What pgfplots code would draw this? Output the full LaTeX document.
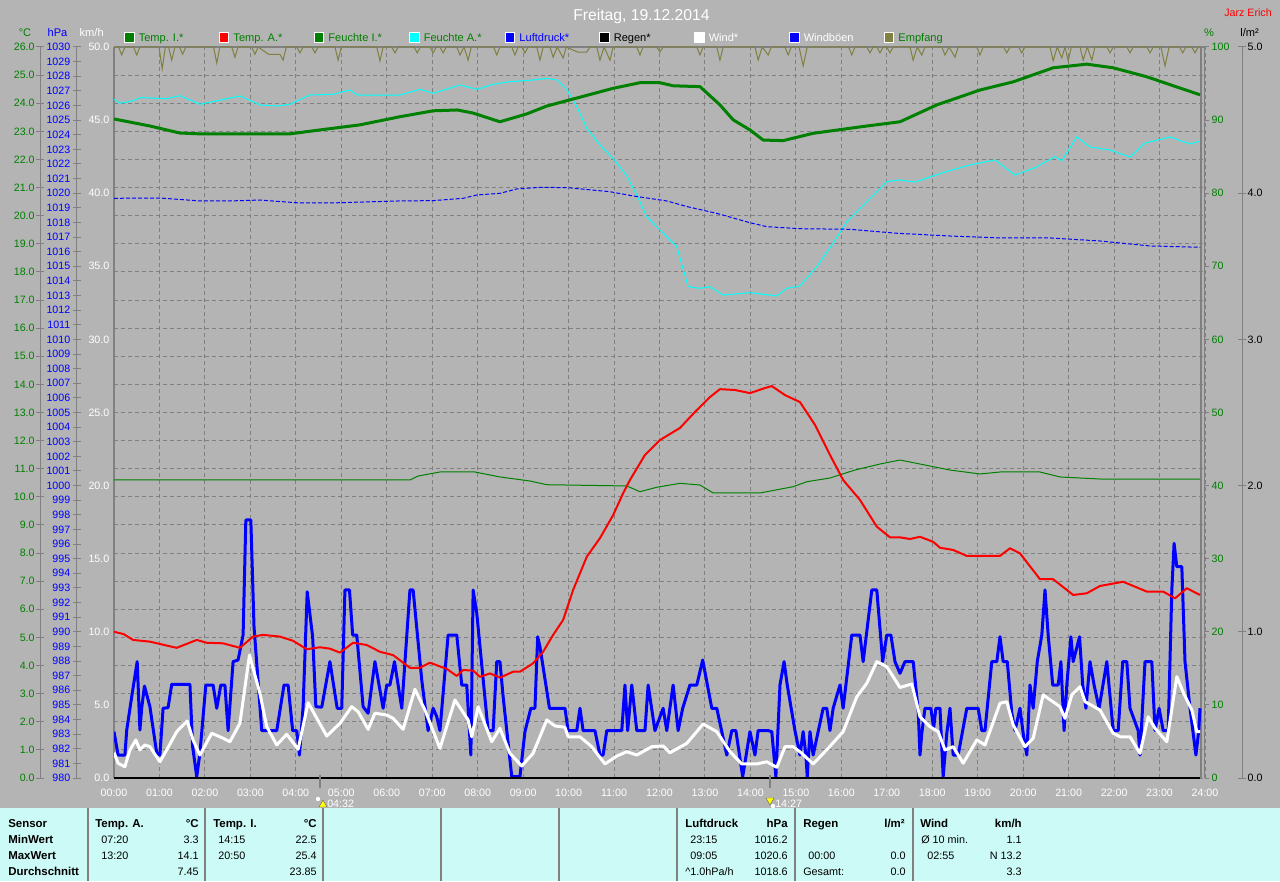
\documentclass[border=0pt]{standalone}
\usepackage{pgfplots}
\pgfplotsset{compat=1.18}
\usepackage{fontspec}
\setmainfont{Liberation Sans}

\definecolor{bggray}{RGB}{180,180,180}
\definecolor{tablecyan}{RGB}{204,250,246}
\definecolor{axgray}{RGB}{128,128,128}
\definecolor{dgreen}{RGB}{0,128,0}
\definecolor{olivec}{RGB}{128,128,64}
\definecolor{aqua}{RGB}{0,255,255}
\definecolor{pred}{RGB}{255,0,0}
\definecolor{pblue}{RGB}{0,0,255}
\definecolor{pyellow}{RGB}{255,255,0}

\newcommand\ticfont{\fontsize{8}{9}\selectfont}
\newcommand\legfont{\fontsize{8.3}{10}\selectfont}
\newcommand\tabfont{\fontsize{8.1}{10}\selectfont}
\newcommand\tabbold{\fontsize{8.6}{10}\selectfont\bfseries}
\newcommand\tl[3]{\node[anchor=base west,inner sep=0pt,font=\tabfont] at (#1,#2) {#3};}
\newcommand\tr[3]{\node[anchor=base east,inner sep=0pt,font=\tabfont] at (#1,#2) {#3};}
\newcommand\bl[3]{\node[anchor=base west,inner sep=0pt,font=\tabbold] at (#1,#2) {#3};}
\newcommand\br[3]{\node[anchor=base east,inner sep=0pt,font=\tabbold] at (#1,#2) {#3};}
\newcommand\legitem[4]{%
  \filldraw[fill=#4,draw=white,line width=0.75pt] (#1,838.5) rectangle ++(9.5,9.5);
  \node[anchor=base west,inner sep=0pt,font=\legfont,text=#3] at (#1+14,839.7) {#2};}

\pgfplotsset{
  /pgf/number format/assume math mode=true,
  /pgf/number format/1000 sep={},
  chartbase/.style={
    scale only axis, width=818.25pt, height=548.25pt,
    at={(85.5pt,77.25pt)}, anchor=south west,
    xmin=0, xmax=24,
  },
  hidden/.style={chartbase, hide axis},
  scalebar/.style={
    scale only axis, width=1pt, height=548.25pt, anchor=south west,
    xmin=0, xmax=1, hide x axis,
    y axis line style={axgray, line width=0.75pt, -},
    tick align=center, major tick length=6pt,
    major tick style={axgray, line width=0.75pt},
    tick label style={font=\ticfont},
  },
  onedec/.style={/pgf/number format/fixed, /pgf/number format/fixed zerofill, /pgf/number format/precision=1},
}

\begin{document}
\begin{tikzpicture}
\begin{scope}[x=0.75pt,y=0.75pt]
\fill[bggray] (0,0) rectangle (1280,881);
\fill[tablecyan] (0,0) rectangle (1280,73);
\foreach \xx in {88,205,323,441,559,677,795,913}
  \draw[axgray, line width=1.1pt] (\xx,0) -- (\xx,73);
\draw[axgray, line width=1.5pt] (114,103) -- (114,834);
\draw[axgray, line width=1.5pt] (114,834) -- (1205,834);
\draw[axgray, line width=1.1pt] (1201,103) -- (1201,834);
\draw[axgray, line width=1.1pt] (1204.5,103) -- (1204.5,834);
\end{scope}

% grid + time labels
\begin{axis}[chartbase, ymin=0, ymax=26,
  xtick={0,...,24}, ytick={0,...,26},
  xticklabels={00:00,01:00,02:00,03:00,04:00,05:00,06:00,07:00,08:00,09:00,10:00,11:00,12:00,13:00,14:00,15:00,16:00,17:00,18:00,19:00,20:00,21:00,22:00,23:00,24:00},
  yticklabels={},
  axis line style={draw=none}, major tick length=0pt,
  xmajorgrids, ymajorgrids,
  major grid style={axgray, line width=0.75pt, dash pattern=on 3pt off 2.25pt},
  xticklabel style={text=white, font=\ticfont, anchor=north, yshift=-5pt},
]
\end{axis}

% km/h: Windboeen, Wind
\begin{axis}[chartbase, ymin=0, ymax=50,
  xtick=\empty, axis line style={draw=none}, major tick length=0pt,
  ytick={0,5,...,50},
  yticklabel style={text=white, font=\ticfont, onedec},
]
% Windboeen
\addplot[pblue, line width=2.25pt, line join=round] coordinates {
(0.00,3.17)(0.09,1.57)(0.24,1.57)(0.28,3.28)(0.39,5.56)(0.51,7.96)(0.57,3.28)(0.61,4.79)
(0.67,6.29)(0.79,4.88)(0.94,1.69)(1.01,1.57)(1.08,4.77)(1.19,4.81)(1.27,6.41)(1.67,6.41)
(1.73,2.14)(1.82,0.09)(1.89,1.69)(2.02,6.36)(2.18,6.36)(2.26,4.77)(2.35,6.36)(2.44,6.36)
(2.51,3.24)(2.62,7.96)(2.73,8.07)(2.84,9.78)(2.90,17.65)(3.01,17.65)(3.08,10.35)(3.25,3.24)
(3.58,3.24)(3.74,6.36)(3.83,6.36)(3.93,3.24)(4.02,3.24)(4.08,1.57)(4.16,4.88)(4.25,12.74)
(4.37,9.66)(4.44,4.88)(4.57,4.84)(4.75,7.96)(4.91,4.77)(5.01,4.77)(5.08,12.86)(5.18,12.86)
(5.25,9.78)(5.34,9.78)(5.48,4.88)(5.59,4.43)(5.74,7.96)(5.92,4.77)(6.00,6.36)(6.07,6.36)
(6.17,7.96)(6.33,4.77)(6.51,12.86)(6.58,12.86)(6.77,6.70)(6.91,3.24)(7.02,4.77)(7.10,4.19)
(7.17,3.24)(7.35,9.78)(7.54,9.78)(7.65,6.36)(7.76,6.36)(7.85,1.57)(7.90,12.86)(7.98,11.27)
(8.23,3.24)(8.34,3.24)(8.42,7.96)(8.49,7.96)(8.56,5.56)(8.75,0.09)(8.93,0.09)(9.04,3.17)
(9.17,4.77)(9.26,4.77)(9.32,9.66)(9.37,8.98)(9.58,4.77)(9.92,4.77)(9.99,3.24)(10.18,3.24)
(10.25,4.77)(10.32,3.24)(10.58,3.24)(10.69,1.57)(10.76,1.57)(10.84,3.24)(11.17,3.24)(11.24,6.36)
(11.30,3.24)(11.39,6.36)(11.50,3.24)(11.68,3.24)(11.75,6.36)(11.90,3.24)(12.08,4.77)(12.16,3.24)
(12.30,6.36)(12.41,3.24)(12.51,4.77)(12.67,6.36)(12.82,6.36)(12.95,8.07)(13.15,4.77)(13.26,4.77)
(13.48,1.57)(13.59,3.24)(13.68,3.24)(13.83,0.09)(13.99,3.17)(14.10,1.57)(14.17,3.24)(14.39,3.24)
(14.47,3.17)(14.56,0.09)(14.65,6.36)(14.74,7.96)(14.81,6.36)(14.98,3.24)(15.09,1.57)(15.16,3.17)
(15.22,1.57)(15.25,0.09)(15.31,3.17)(15.38,1.57)(15.60,4.77)(15.68,4.77)(15.75,3.24)(15.82,4.77)
(15.97,6.36)(16.04,4.77)(16.23,9.78)(16.41,9.78)(16.48,7.96)(16.67,12.86)(16.78,12.86)(16.91,7.96)
(17.00,9.78)(17.09,9.78)(17.18,7.96)(17.29,7.16)(17.40,7.96)(17.58,7.96)(17.69,4.65)(17.73,1.57)
(17.77,3.06)(17.84,4.77)(17.97,4.77)(18.03,3.40)(18.08,4.77)(18.17,4.77)(18.24,0.09)(18.32,3.06)
(18.39,4.77)(18.46,1.57)(18.57,1.57)(18.76,4.77)(19.01,4.77)(19.09,3.24)(19.16,3.24)(19.31,7.96)
(19.42,7.96)(19.49,9.66)(19.56,7.96)(19.65,7.96)(19.75,4.43)(19.82,3.24)(19.93,4.77)(20.00,3.06)
(20.08,1.57)(20.15,6.36)(20.22,4.77)(20.31,7.96)(20.41,9.78)(20.48,12.86)(20.55,9.78)(20.65,6.36)
(20.77,6.36)(20.83,7.96)(20.90,3.24)(20.96,6.36)(21.05,9.66)(21.10,7.96)(21.24,9.66)(21.31,6.36)
(21.38,4.77)(21.47,7.96)(21.56,6.36)(21.67,4.77)(21.84,7.96)(21.98,3.24)(22.09,3.24)(22.19,7.96)
(22.28,7.96)(22.35,4.77)(22.53,3.24)(22.57,1.57)(22.68,7.96)(22.83,7.96)(22.90,3.24)(22.99,4.77)
(23.08,3.24)(23.19,3.24)(23.27,12.86)(23.32,16.05)(23.38,14.45)(23.49,14.45)(23.56,7.96)(23.67,4.77)
(23.80,1.57)(23.86,3.17)(23.89,4.77)
};
% Wind
\addplot[white, line width=2.25pt, line join=round] coordinates {
(0.00,1.73)(0.09,1.01)(0.24,0.77)(0.35,1.92)(0.48,2.60)(0.57,1.92)(0.68,2.26)(0.79,2.14)
(1.01,1.11)(1.16,1.92)(1.38,3.17)(1.61,3.90)(1.74,2.60)(1.89,1.57)(2.15,3.06)(2.40,2.72)
(2.55,2.48)(2.77,3.74)(2.98,8.41)(3.21,5.79)(3.36,3.51)(3.58,2.26)(3.80,2.99)(4.05,1.96)
(4.27,5.15)(4.68,2.87)(4.97,3.74)(5.23,4.88)(5.37,4.53)(5.59,3.33)(5.74,4.43)(6.00,4.31)
(6.14,4.08)(6.36,3.33)(6.62,6.07)(6.84,4.65)(7.17,2.03)(7.50,5.34)(7.79,3.97)(7.87,2.82)
(8.01,4.88)(8.31,2.48)(8.49,3.40)(8.71,1.69)(8.97,0.82)(9.22,1.69)(9.52,3.97)(9.70,3.56)
(9.92,3.47)(9.99,2.82)(10.25,2.82)(10.51,2.14)(10.80,0.96)(11.06,1.50)(11.28,1.80)(11.50,1.57)
(11.83,2.14)(12.08,2.19)(12.23,1.73)(12.60,2.37)(12.96,3.69)(13.26,3.17)(13.55,1.80)(13.81,0.96)
(14.14,0.96)(14.36,1.11)(14.58,0.73)(14.76,2.14)(14.94,2.14)(15.13,1.69)(15.38,0.96)(15.71,2.03)
(16.04,3.17)(16.34,5.56)(16.56,6.48)(16.78,7.96)(17.00,7.61)(17.14,6.93)(17.29,6.19)(17.55,6.43)
(17.73,4.19)(17.95,3.51)(18.13,3.17)(18.28,1.92)(18.46,2.14)(18.68,1.01)(18.98,2.60)(19.16,2.26)
(19.49,5.11)(19.64,5.22)(19.78,3.63)(20.04,2.14)(20.22,2.72)(20.44,5.68)(20.81,4.88)(20.92,4.08)
(21.07,5.68)(21.25,6.25)(21.36,5.22)(21.69,4.65)(21.98,3.06)(22.13,2.82)(22.35,2.82)(22.57,1.69)
(22.75,4.19)(22.90,3.40)(23.16,2.48)(23.38,6.93)(23.53,5.79)(23.71,4.65)(23.82,3.17)(23.89,3.17)
};
\end{axis}

% %: Feuchte I, Feuchte A, Empfang
\begin{axis}[chartbase, ymin=0, ymax=100,
  hide x axis, axis y line*=right, y axis line style={draw=none},
  ytick={0,10,...,100}, tick align=outside, major tick length=3pt,
  major tick style={axgray, line width=0.75pt},
  yticklabel style={text=dgreen, font=\ticfont, xshift=-1.5pt},
]
% Feuchte I
\addplot[dgreen, line width=0.75pt] coordinates {
(0,40.77)(6.51,40.77)(6.69,41.31)(7.17,41.86)(7.94,41.86)(8.49,41.18)(9.15,40.63)(9.52,40.12)
(11.28,39.95)(11.57,39.17)(11.94,39.77)(12.45,40.31)(12.89,40.08)(13.18,38.99)(14.21,38.99)
(14.94,39.85)(15.24,40.53)(15.75,41.04)(16.30,42.13)(16.85,42.95)(17.29,43.50)(17.73,42.95)
(18.39,42.13)(19.05,41.59)(19.49,41.86)(20.37,41.86)(20.81,41.18)(21.69,40.90)(23.89,40.90)
};
% Feuchte A
\addplot[aqua, line width=0.75pt] coordinates {
(0.00,92.85)(0.13,92.30)(0.42,92.65)(0.57,93.07)(1.17,92.93)(1.45,93.34)(1.89,92.16)(2.27,92.65)
(2.77,93.30)(3.21,92.07)(3.59,91.93)(3.87,92.16)(4.31,93.43)(4.82,93.53)(5.19,94.12)(5.35,93.43)
(5.92,93.43)(6.29,93.43)(6.73,94.21)(7.02,93.67)(7.61,94.80)(7.99,94.21)(8.34,94.90)(8.71,95.25)
(9.22,95.49)(9.52,95.72)(9.75,95.49)(9.97,94.12)(10.18,91.83)(10.40,88.88)(10.69,86.59)(10.98,84.77)
(11.28,82.38)(11.50,79.75)(11.72,76.79)(12.01,74.97)(12.16,74.05)(12.38,72.68)(12.63,67.21)(12.89,66.99)
(13.11,67.21)(13.40,66.07)(13.99,66.39)(14.58,65.94)(14.80,66.99)(15.09,67.31)(15.46,69.95)(15.82,73.15)
(16.12,76.10)(16.56,78.84)(17.00,81.57)(17.29,81.81)(17.62,81.53)(18.28,82.90)(18.83,83.86)(19.38,84.54)
(19.82,82.49)(20.26,83.49)(20.70,85.00)(20.85,84.45)(21.18,87.69)(21.47,86.32)(21.91,85.91)(22.35,84.95)
(22.68,86.86)(23.23,87.69)(23.67,86.73)(23.89,87.14)
};
% Empfang
\addplot[olivec, line width=0.75pt] coordinates {
(0,100)(0.10,100)(0.17,98.9)(0.24,100)(0.43,100)(0.50,98.9)(0.57,100)(0.99,100)(1.06,97.0)(1.13,100)
(1.20,100)(1.27,98.2)(1.34,100)(1.44,100)(1.51,99.0)(1.58,100)(2.19,100)(2.26,97.8)(2.33,100)
(2.59,100)(2.66,98.6)(2.73,100)(3.03,100)(3.10,99.0)(3.17,100)(3.40,99.0)(3.65,99.0)(3.72,98.2)(3.79,100)
(4.02,100)(4.09,99.2)(4.16,100)(4.35,100)(4.42,99.2)(4.49,100)(4.86,100)(4.93,98.2)(5.00,100)
(5.78,100)(5.85,98.1)(5.92,100)(6.11,100)(6.18,99.2)(6.25,100)(6.60,100)(6.67,99.2)(6.74,100)
(6.95,100)(7.02,99.2)(7.09,100)(7.17,100)(7.24,99.2)(7.31,100)(7.54,100)(7.61,98.9)(7.70,100)
(7.79,98.2)(7.86,100)(8.35,100)(8.42,98.9)(8.49,100)(8.75,100)(8.82,98.9)(8.89,100)(8.97,100)
(9.04,99.2)(9.11,100)(9.30,100)(9.37,98.2)(9.44,100)(9.59,100)(9.66,98.6)(9.75,100)(9.88,98.5)
(9.95,100)(10.20,99.3)(10.40,99.3)(10.47,100)(10.62,100)(10.69,98.2)(10.78,100)(10.91,98.2)(10.98,100)
(11.50,100)(11.57,98.9)(11.64,100)(11.94,100)(12.01,99.3)(12.08,100)(12.82,100)(12.89,98.9)(12.96,100)
(13.26,100)(13.33,98.2)(13.40,100)(14.10,100)(14.17,98.2)(14.26,100)(14.39,98.9)(14.46,100)
(14.76,100)(14.83,98.9)(14.90,100)(15.07,100)(15.16,97.4)(15.25,100)(16.16,100)(16.23,98.9)(16.30,100)
(16.56,100)(16.63,99.2)(16.70,100)(16.78,100)(16.85,99.2)(16.92,100)(17.00,100)(17.07,99.2)(17.14,100)
(17.51,100)(17.58,98.2)(17.67,100)(17.77,98.9)(17.84,100)(18.21,100)(18.28,98.9)(18.37,100)
(18.50,98.6)(18.57,100)(18.98,100)(19.05,98.9)(19.12,100)(19.57,100)(19.64,99.2)(19.71,100)
(19.90,100)(19.97,99.2)(20.04,100)(20.59,100)(20.66,98.1)(20.75,100)(20.85,98.5)(20.92,100)
(20.99,98.1)(21.06,100)(21.25,100)(21.32,98.2)(21.41,100)(21.51,98.2)(21.58,100)(21.84,100)
(21.91,99.2)(21.98,100)(22.28,100)(22.35,99.2)(22.42,100)(22.72,100)(22.79,99.2)(22.86,100)
(23.03,100)(23.12,97.4)(23.21,100)(23.44,100)(23.51,99.2)(23.58,100)(23.71,100)(23.78,99.2)(23.85,100)(23.89,100)
};
\end{axis}

% hPa: Luftdruck
\begin{axis}[hidden, ymin=980, ymax=1030]
\addplot[pblue, line width=0.75pt, dash pattern=on 3pt off 1.5pt] coordinates {
(0,1019.65)(1.01,1019.67)(1.89,1019.47)(2.55,1019.47)(3.21,1019.53)(4.09,1019.33)(4.75,1019.33)
(6.29,1019.47)(7.02,1019.49)(7.68,1019.65)(7.99,1019.88)(8.49,1019.99)(8.86,1020.29)(9.37,1020.40)
(9.97,1020.38)(10.91,1020.10)(11.42,1019.81)(12.16,1019.47)(12.61,1019.08)(13.26,1018.62)
(13.99,1017.98)(14.36,1017.71)(15.09,1017.57)(16.19,1017.53)(17.22,1017.26)(18.39,1017.07)
(19.49,1016.94)(20.59,1016.94)(21.69,1016.73)(22.79,1016.39)(23.89,1016.30)
};
\end{axis}

% degC: Temp A, Temp I
\begin{axis}[hidden, ymin=0, ymax=26]
% Temp. A.
\addplot[pred, line width=1.5pt, line join=round] coordinates {
(0.00,5.20)(0.21,5.12)(0.42,4.91)(0.79,4.85)(1.16,4.71)(1.38,4.63)(1.60,4.77)(1.82,4.91)
(2.04,4.81)(2.40,4.79)(2.77,4.63)(3.06,5.03)(3.28,5.09)(3.65,5.03)(3.94,4.88)(4.24,4.58)
(4.53,4.65)(4.75,4.60)(4.97,4.46)(5.26,4.81)(5.56,4.73)(5.85,4.49)(6.14,4.37)(6.51,3.92)
(6.73,3.92)(6.95,4.10)(7.32,3.88)(7.54,3.63)(7.68,3.84)(7.90,3.82)(8.05,3.60)(8.27,3.72)
(8.49,3.57)(8.78,3.78)(8.93,3.78)(9.22,4.08)(9.44,4.49)(9.66,5.09)(9.88,5.62)(10.10,6.69)
(10.40,7.87)(10.69,8.53)(10.98,9.35)(11.20,10.13)(11.35,10.60)(11.68,11.49)(12.01,12.02)
(12.45,12.45)(12.78,13.02)(13.11,13.55)(13.33,13.83)(13.66,13.80)(13.99,13.69)(14.32,13.87)
(14.47,13.94)(14.76,13.62)(15.09,13.37)(15.42,12.56)(15.75,11.49)(16.04,10.60)(16.41,9.89)
(16.78,8.94)(17.07,8.56)(17.29,8.56)(17.51,8.50)(17.73,8.58)(18.02,8.40)(18.17,8.19)(18.46,8.11)
(18.76,7.90)(19.49,7.90)(19.71,8.17)(19.93,7.99)(20.37,7.07)(20.66,7.07)(21.10,6.51)(21.40,6.57)
(21.69,6.83)(22.20,6.98)(22.72,6.63)(23.08,6.63)(23.34,6.39)(23.60,6.75)(23.89,6.51)
};
% Temp. I.
\addplot[dgreen, line width=2.25pt, line join=round] coordinates {
(0,23.44)(0.79,23.19)(1.45,22.94)(1.89,22.91)(3.87,22.91)(4.53,23.05)(5.41,23.23)(6.29,23.52)
(7.02,23.73)(7.55,23.76)(7.90,23.65)(8.49,23.34)(9.08,23.62)(9.52,23.90)(10.10,24.15)(10.98,24.53)
(11.57,24.73)(12.01,24.73)(12.30,24.62)(12.89,24.59)(13.33,23.94)(13.62,23.41)(13.99,23.05)
(14.28,22.69)(14.72,22.67)(15.38,22.93)(16.56,23.19)(17.29,23.34)(18.10,23.94)(19.05,24.47)
(19.78,24.76)(20.66,25.26)(21.40,25.39)(21.98,25.26)(22.72,24.94)(23.23,24.66)(23.89,24.30)
};
\end{axis}

% l/m2: Regen
\begin{axis}[hidden, ymin=0, ymax=5, clip=false]
\addplot[black, line width=1pt] coordinates {(0,0)(6,0)(12,0)(18,0)(23.89,0)};
\end{axis}

% scale bars
\begin{axis}[scalebar, at={(30pt,77.25pt)}, ymin=0, ymax=26,
  axis y line*=left, ytick={0,...,26},
  yticklabel style={text=dgreen, onedec, xshift=2.5pt}]
\end{axis}
\begin{axis}[scalebar, at={(57.75pt,77.25pt)}, ymin=980, ymax=1030,
  axis y line*=left, ytick={980,...,1030},
  yticklabel style={text=pblue, xshift=1.5pt}]
\end{axis}
\begin{axis}[scalebar, at={(930.5pt,77.25pt)}, ymin=0, ymax=5,
  axis y line*=right, ytick={0,...,5},
  yticklabel style={text=black, onedec, xshift=-2.25pt}]
\end{axis}

\begin{scope}[x=0.75pt,y=0.75pt]
% title and header texts
\node[anchor=base,inner sep=0pt,text=white,font=\fontsize{11.8}{14}\selectfont] at (641.5,860.3) {Freitag, 19.12.2014};
\node[anchor=base east,inner sep=0pt,text=pred,font=\ticfont] at (1272,864.3) {Jarz Erich};
\node[anchor=base,inner sep=0pt,text=dgreen,font=\legfont] at (25,844.3) {°C};
\node[anchor=base,inner sep=0pt,text=pblue,font=\legfont] at (57.5,844.3) {hPa};
\node[anchor=base,inner sep=0pt,text=white,font=\legfont] at (91.7,844.3) {km/h};
\node[anchor=base,inner sep=0pt,text=dgreen,font=\legfont] at (1209,844.3) {\%};
\node[anchor=base,inner sep=0pt,text=black,font=\legfont] at (1249.5,844.3) {l/m²};
% legend
\legitem{124.5}{Temp. I.*}{dgreen}{dgreen}
\legitem{219.2}{Temp. A.*}{dgreen}{pred}
\legitem{314.2}{Feuchte I.*}{dgreen}{dgreen}
\legitem{409.5}{Feuchte A.*}{dgreen}{aqua}
\legitem{505.2}{Luftdruck*}{pblue}{pblue}
\legitem{599.5}{Regen*}{black}{black}
\legitem{694.5}{Wind*}{white}{white}
\legitem{789.5}{Windböen}{white}{pblue}
\legitem{884.2}{Empfang}{dgreen}{olivec}
% moon markers
\draw[axgray, line width=1.5pt] (320,106) -- (320,93);
\draw[axgray, line width=1.5pt] (770,106) -- (770,93);
\filldraw[fill=pyellow, draw=black!60, line width=0.3pt] (319,74) -- (327,74) -- (323,81) -- cycle;
\fill[white] (318,82) circle (2.2);
\filldraw[fill=pyellow, draw=black!60, line width=0.3pt] (766,83) -- (774,83) -- (770,76) -- cycle;
\fill[white] (773,75) circle (2.2);
\node[anchor=base west,inner sep=0pt,text=white,font=\ticfont] at (327,73.8) {04:32};
\node[anchor=base west,inner sep=0pt,text=white,font=\ticfont] at (775,73.8) {14:27};
% table
\bl{8}{53.3}{Sensor}\bl{8}{37.7}{MinWert}\bl{8}{21.7}{MaxWert}\bl{8}{5.5}{Durchschnitt}
\bl{95}{53.3}{Temp. A.}\br{199}{53.3}{°C}
\tl{101}{37.7}{07:20}\tr{199}{37.7}{3.3}
\tl{101}{21.7}{13:20}\tr{199}{21.7}{14.1}
\tr{199}{5.5}{7.45}
\bl{213}{53.3}{Temp. I.}\br{317}{53.3}{°C}
\tl{218}{37.7}{14:15}\tr{317}{37.7}{22.5}
\tl{218}{21.7}{20:50}\tr{317}{21.7}{25.4}
\tr{317}{5.5}{23.85}
\bl{685}{53.3}{Luftdruck}\br{788}{53.3}{hPa}
\tl{690}{37.7}{23:15}\tr{788}{37.7}{1016.2}
\tl{690}{21.7}{09:05}\tr{788}{21.7}{1020.6}
\tl{685}{5.5}{\textasciicircum 1.0hPa/h}\tr{788}{5.5}{1018.6}
\bl{803}{53.3}{Regen}\br{905}{53.3}{l/m²}
\tl{808}{21.7}{00:00}\tr{906}{21.7}{0.0}
\tl{803}{5.5}{Gesamt:}\tr{906}{5.5}{0.0}
\bl{920}{53.3}{Wind}\br{1022}{53.3}{km/h}
\tl{921}{37.7}{Ø 10 min.}\tr{1022}{37.7}{1.1}
\tl{927}{21.7}{02:55}\tr{1022}{21.7}{N 13.2}
\tr{1022}{5.5}{3.3}
\end{scope}
\pgfresetboundingbox
\useasboundingbox (0,0) rectangle (960pt,660.75pt);
\end{tikzpicture}
\end{document}
